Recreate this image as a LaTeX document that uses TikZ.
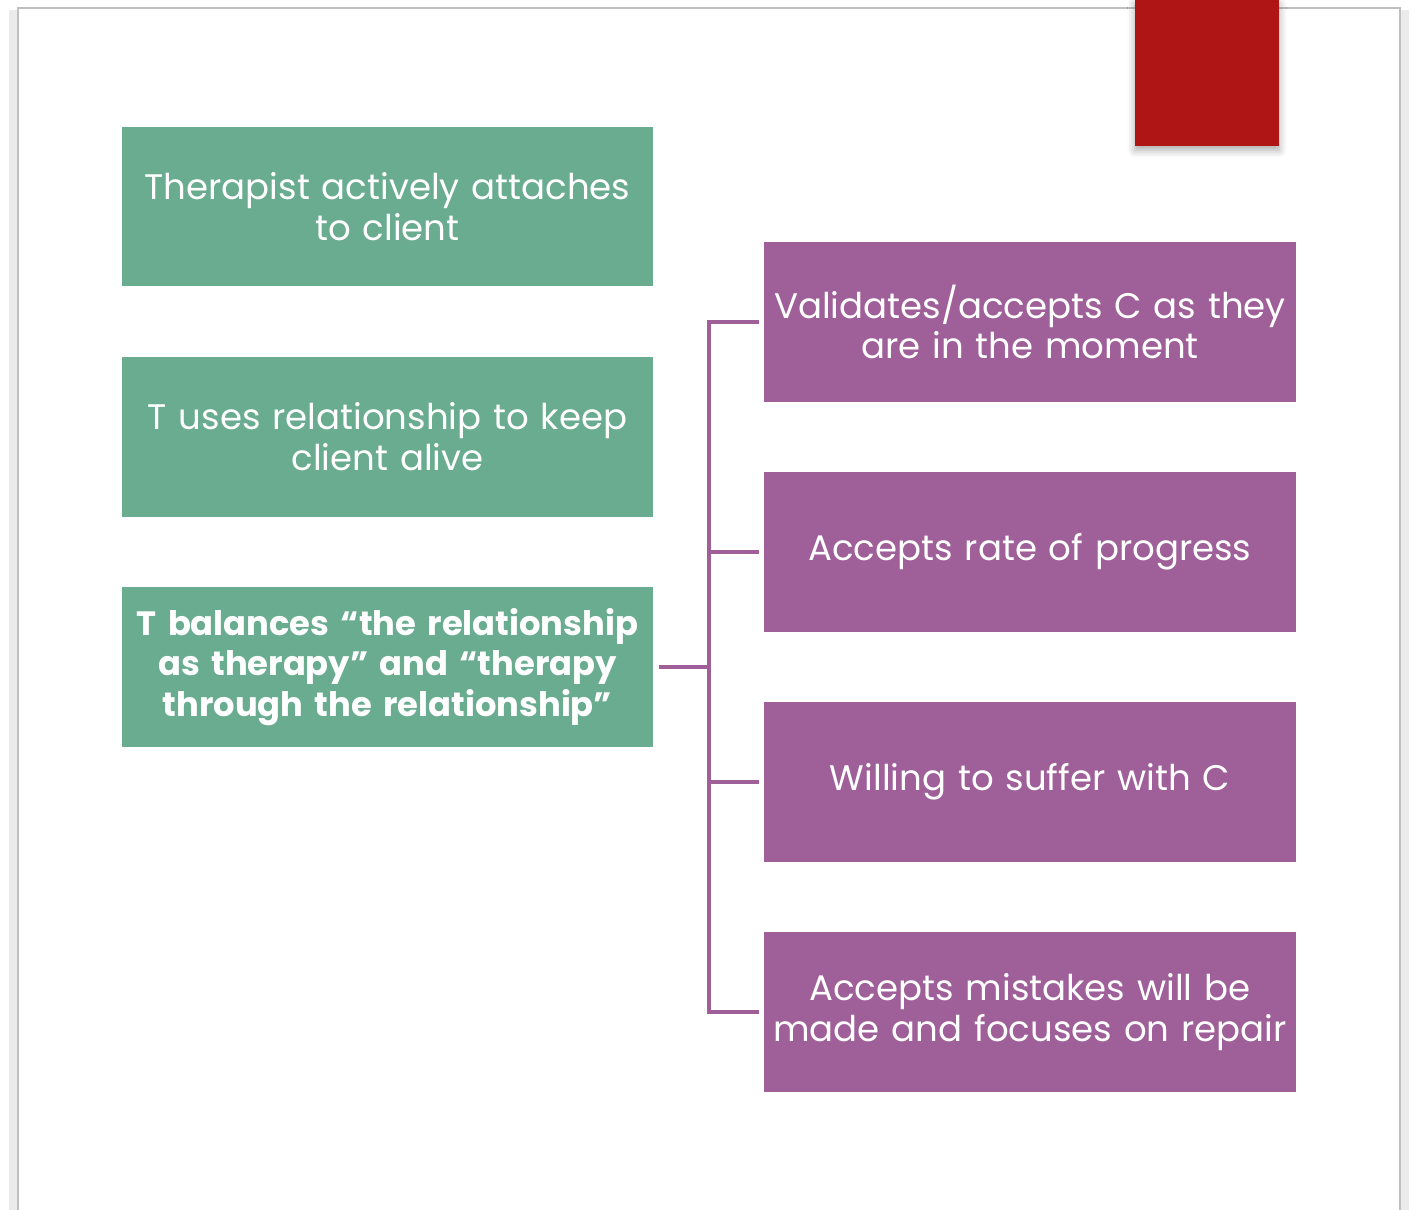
\documentclass[tikz,border=0pt]{standalone}
\usepackage{fontspec}
\setmainfont{Poppins}
\usetikzlibrary{positioning,shadows.blur}

\definecolor{sage}{RGB}{106,172,144}
\definecolor{plum}{RGB}{159,95,153}
\definecolor{brick}{RGB}{175,21,21}

\tikzset{
  greenbox/.style={fill=sage, text=white, minimum width=5.31cm, minimum height=1.59cm,
    text width=5.2cm, align=center, inner sep=0pt,
    font=\fontsize{10.1pt}{11.6pt}\selectfont},
  plumbox/.style={greenbox, fill=plum},
  link/.style={draw=plum, line width=0.9pt},
}

\begin{document}
\begin{tikzpicture}[x=0.01cm,y=-0.01cm]
\useasboundingbox (0,0) rectangle (1412,1210);
% slide frame with a soft edge on the sides
\draw[black!8, line width=3pt] (14,10) -- (14,1230) (1404,10) -- (1404,1230);
\draw[black!25, line width=0.8pt] (18,8) rectangle (1400,1230);
% red tab at the top
\fill[brick, blur shadow={shadow xshift=0cm, shadow yshift=-0.04cm, shadow blur steps=5, shadow opacity=35}]
  (1135,0) rectangle (1279,146);

% left column
\node[greenbox] (attach) at (387.5,206.5) {Therapist actively attaches\\to client};
\node[greenbox] (alive)  at (387.5,437) {T uses relationship to keep\\client alive};
\node[greenbox, font=\fontsize{9.6pt}{11.6pt}\selectfont\bfseries] (balance) at (387.5,667)
  {T balances “the relationship\\as therapy” and “therapy\\through the relationship”};

% right column
\node[plumbox] (validate) at (1030,322)  {Validates/accepts C as they\\are in the moment};
\node[plumbox] (rate)     at (1030,552)  {Accepts rate of progress};
\node[plumbox] (suffer)   at (1030,782)  {Willing to suffer with C};
\node[plumbox] (repair)   at (1030,1012) {Accepts mistakes will be\\made and focuses on repair};

% bracket
\coordinate (hub) at (709,667);
\draw[link, shorten <=0.05cm] (balance.east) -- (hub);
\foreach \p in {validate,rate,suffer,repair}
  \draw[link, shorten >=0.05cm] (hub) |- (\p.west);
\end{tikzpicture}
\end{document}
